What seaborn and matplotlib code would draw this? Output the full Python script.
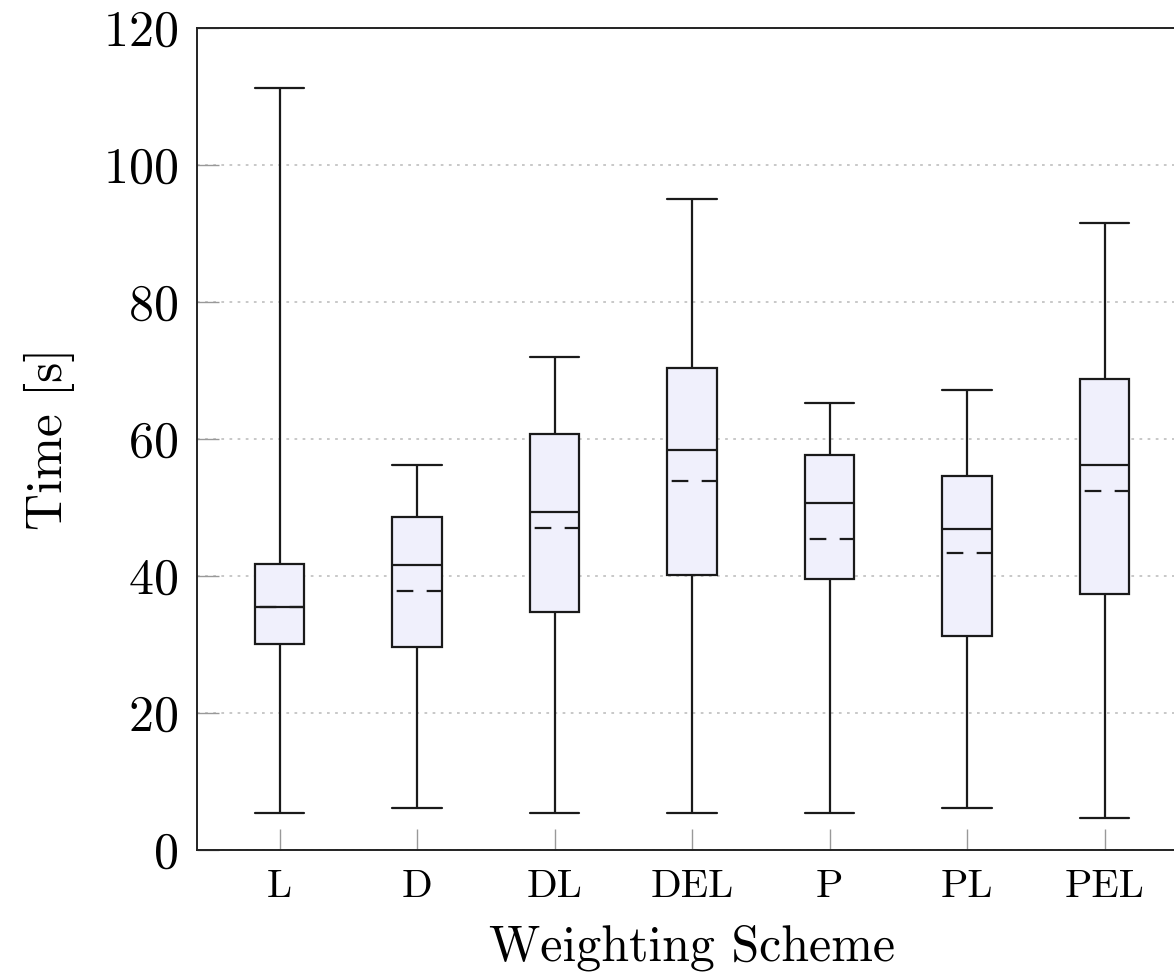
import numpy as np
import pandas as pd
import matplotlib
matplotlib.use("Agg")
import matplotlib.pyplot as plt
import seaborn as sns

# five-number summaries: min, q1, median, q3, max
schemes = ["L", "D", "DL", "DEL", "P", "PL", "PEL"]
t_min = [5.4, 6.1, 5.4, 5.4, 5.4, 6.1, 4.7]
t_q1 = [30.1, 29.6, 34.8, 40.2, 39.6, 31.3, 37.4]
t_med = [35.5, 41.6, 49.4, 58.4, 50.6, 46.8, 56.2]
t_q3 = [41.8, 48.6, 60.7, 70.3, 57.6, 54.6, 68.7]
t_max = [111.3, 56.2, 72.0, 95.0, 65.2, 67.1, 91.5]
t_mean = [35.5, 37.8, 47.0, 53.9, 45.4, 43.3, 52.4]

rows = []
for i, s in enumerate(schemes):
    for v in (t_min[i], t_q1[i], t_med[i], t_q3[i], t_max[i]):
        rows.append((s, v))
df = pd.DataFrame(rows, columns=["scheme", "time"])

sns.set_style("white")
plt.rcParams["font.family"] = ["cmr10", "DejaVu Serif"]
plt.rcParams["axes.formatter.use_mathtext"] = True
plt.rcParams["mathtext.fontset"] = "cm"
plt.rcParams["text.color"] = "black"
plt.rcParams["axes.labelcolor"] = "black"
plt.rcParams["xtick.labelcolor"] = "black"
plt.rcParams["ytick.labelcolor"] = "black"

fig = plt.figure(figsize=(11.74, 9.75), dpi=100)
ax = fig.add_axes([197 / 1174, 125 / 975, 990 / 1174, 822 / 975])

box_w = 0.36
line_col = "#1a1a1a"
sns.boxplot(data=df, x="scheme", y="time", order=schemes, whis=(0, 100),
            width=box_w, color="#f0f0fc", saturation=1, linecolor=line_col,
            linewidth=1.6, capwidths=box_w, ax=ax, zorder=3)

# mean lines (dashed)
xs = np.arange(len(schemes))
ax.hlines(t_mean, xs - box_w / 2, xs + box_w / 2, colors=line_col,
          linewidth=1.6, linestyles=[(11.4, (7.5, 6))], zorder=4)

ax.set_xlim(-0.6, 6.6)
ax.set_ylim(0, 120)
ax.set_yticks(np.arange(0, 121, 20))
ax.yaxis.grid(True, linestyle=(0, (1.5, 3)), color="#c4c4c4", linewidth=1.3)
ax.set_axisbelow(True)

for sp in ax.spines.values():
    sp.set_color("#222222")
    sp.set_linewidth(1.4)

ax.tick_params(axis="y", direction="in", length=16, width=1, color="#999999",
               labelsize=36, pad=14, left=True, right=False)
ax.tick_params(axis="x", direction="in", length=15, width=1, color="#999999",
               labelsize=29, pad=14, bottom=True, top=False)

ax.set_xlabel("Weighting Scheme", fontsize=36, labelpad=14)
ax.set_ylabel("Time [s]", fontsize=37, labelpad=20)

fig.savefig("out.png", dpi=100)
